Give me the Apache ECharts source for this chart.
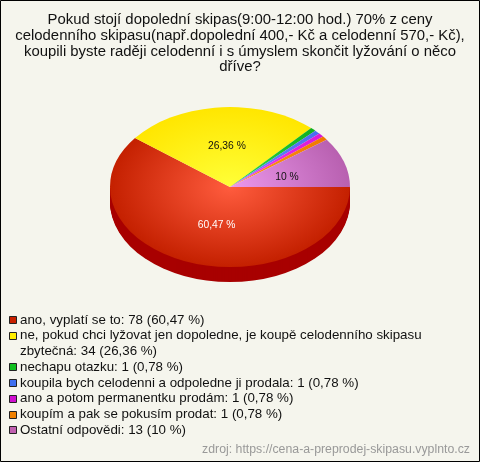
<!DOCTYPE html>
<html>
<head>
<meta charset="utf-8">
<style>
  html, body { margin: 0; padding: 0; background: #f5f5ed; }
  #chart { width: 480px; height: 462px; }
</style>
<script src="https://cdn.jsdelivr.net/npm/echarts@6/dist/echarts.min.js"></script>
</head>
<body>
<div id="chart"></div>
<script>
var titleLines = [
  'Pokud stojí dopolední skipas(9:00-12:00 hod.) 70% z ceny',
  'celodenního skipasu(např.dopolední 400,- Kč a celodenní 570,- Kč),',
  'koupili byste raději celodenní i s úmyslem skončit lyžování o něco',
  'dříve?'
];
var answers = [
  ['ano, vyplatí se to: 78 (60,47 %)'],
  ['ne, pokud chci lyžovat jen dopoledne, je koupě celodenního skipasu', 'zbytečná: 34 (26,36 %)'],
  ['nechapu otazku: 1 (0,78 %)'],
  ['koupila bych celodenni a odpoledne ji prodala: 1 (0,78 %)'],
  ['ano a potom permanentku prodám: 1 (0,78 %)'],
  ['koupím a pak se pokusím prodat: 1 (0,78 %)'],
  ['Ostatní odpovědi: 13 (10 %)']
];
var counts = [78, 34, 1, 1, 1, 1, 13];
var sliceLabels = ['60,47 %', '26,36 %', '', '', '', '', '10 %'];
var edgeColors = ['#c42000', '#ffe600', '#10b020', '#4a6cf0', '#d818d8', '#f07800', '#b860b0'];
var midColors = ['#ff5c3e', '#ffff38', '#30e040', '#6c90ff', '#f040f0', '#ff9820', '#ec98ec'];
var keyColors = ['#c82000', '#ffee00', '#10c020', '#4070f0', '#d010d0', '#f08000', '#c060b0'];
var sourceText = 'zdroj: https://cena-a-preprodej-skipasu.vyplnto.cz';

var cx = 230, cy = 187, rx = 120, ry = 80, depth = 15;
var total = counts.reduce(function (a, b) { return a + b; }, 0);
// small hand nudges so the slice labels sit where the original has them
var labelNudge = { 0: [6, 0], 1: [2, -1], 6: [0, 3] };

function sliceAngles(i) {
  var before = 0;
  for (var k = 0; k < i; k++) before += counts[k];
  return [before / total * Math.PI * 2, (before + counts[i]) / total * Math.PI * 2];
}

// ECharts pie is always round, so the flattened pie is a custom series of scaled sectors
function renderSide(params) {
  var a = sliceAngles(params.dataIndex);
  var kids = [];
  if (a[0] < Math.PI) {
    for (var d = depth; d > 0; d--) {
      kids.push({
        type: 'sector',
        x: cx, y: cy + d, scaleY: ry / rx,
        shape: { cx: 0, cy: 0, r0: 0, r: rx, startAngle: a[0], endAngle: Math.min(a[1], Math.PI) },
        style: { fill: '#a80000' }
      });
    }
  }
  return { type: 'group', children: kids };
}

function renderTop(params, api) {
  var i = params.dataIndex;
  var a = sliceAngles(i);
  var mid = (a[0] + a[1]) / 2;
  var kids = [{
    type: 'sector',
    x: cx, y: cy, scaleY: ry / rx,
    shape: { cx: 0, cy: 0, r0: 0, r: rx, startAngle: a[0], endAngle: a[1] },
    style: {
      fill: new echarts.graphic.RadialGradient(0, 0, rx, [
        { offset: 0, color: midColors[i] },
        { offset: 1, color: edgeColors[i] }
      ], true)
    }
  }];
  if (sliceLabels[i]) {
    var nudge = labelNudge[i] || [0, 0];
    kids.push({
      type: 'text',
      z2: 10,
      x: cx + Math.cos(mid) * rx * 0.5 + nudge[0],
      y: cy + Math.sin(mid) * ry * 0.5 + nudge[1],
      style: {
        text: sliceLabels[i],
        fill: i === 0 ? '#ffffff' : '#111111',
        font: '10.3px "Liberation Sans", Arial, sans-serif',
        align: 'center',
        verticalAlign: 'middle'
      }
    });
  }
  return { type: 'group', children: kids };
}

var graphics = [{
  type: 'rect',
  shape: { x: 0.5, y: 0.5, width: 479, height: 461 },
  style: { fill: 'none', stroke: '#000000', lineWidth: 1 }
}];

titleLines.forEach(function (line, i) {
  graphics.push({
    type: 'text', x: 240, y: 20 + i * 15.7,
    style: { text: line, fill: '#111111', font: '14.9px "Liberation Sans", Arial, sans-serif', align: 'center', verticalAlign: 'middle' }
  });
});

var row = 0;
answers.forEach(function (lines, i) {
  var y = 320 + row * 15.75;
  graphics.push({
    type: 'rect',
    shape: { x: 9.5, y: Math.round(y) - 3.5, width: 7, height: 7 },
    style: { fill: keyColors[i], stroke: '#222222', lineWidth: 1 }
  });
  lines.forEach(function (line) {
    graphics.push({
      type: 'text', x: 20, y: 320 + row * 15.75,
      style: { text: line, fill: '#111111', font: '13.33px "Liberation Sans", Arial, sans-serif', align: 'left', verticalAlign: 'middle' }
    });
    row++;
  });
});

graphics.push({
  type: 'text', x: 470, y: 450,
  style: { text: sourceText, fill: '#999999', font: '12.3px "Liberation Sans", Arial, sans-serif', align: 'right', verticalAlign: 'middle' }
});

var chart = echarts.init(document.getElementById('chart'), null, { renderer: 'canvas' });
chart.setOption({
  animation: false,
  backgroundColor: '#f5f5ed',
  graphic: graphics,
  series: [
    { type: 'custom', coordinateSystem: 'none', silent: true, renderItem: renderSide, data: counts },
    { type: 'custom', coordinateSystem: 'none', silent: true, renderItem: renderTop, data: counts }
  ]
});
</script>
</body>
</html>
